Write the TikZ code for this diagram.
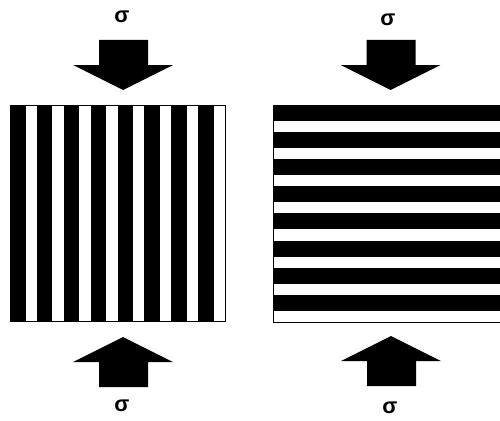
\documentclass[tikz,border=0pt]{standalone}
\usepackage{fontspec}
\setmainfont{Liberation Sans}
\usepackage{tikz}
\usetikzlibrary{positioning}

\begin{document}
\begin{tikzpicture}[x=1pt, y=-1pt,
    stress/.style={font=\fontsize{22}{24}\selectfont\bfseries, inner sep=0pt},
    load/.style={fill=black}]
  \useasboundingbox (0,0) rectangle (500,420);
  % vertical layers (left block)
  \foreach \i in {0,...,7}{
    \fill (10+\i*26.875,105) rectangle (25.5+\i*26.875,321);
  }
  \draw[line width=0.8pt] (10,105) rectangle (225,321);
  % horizontal layers (right block)
  \foreach \i in {0,...,7}{
    \fill (273,105+\i*27.1) rectangle (505,121+\i*27.1);
  }
  \draw[line width=0.8pt] (505,105) -- (273,105) -- (273,322) -- (505,322);
  % compressive loads
  \foreach \cx/\cy/\s in {123/65/1, 390.5/65/1, 123/362/-1, 391/361/-1}{
    \fill[load, shift={(\cx,\cy)}, yscale=\s]
      (-24,-25) -- (25,-25) -- (25,0) -- (50,0) -- (0,25) -- (-50,0) -- (-24,0) -- cycle;
  }
  \node[stress] (sigtl) at (122,17) {σ};
  \node[stress] (sigtr) at (388,20) {σ};
  \node[stress] (sigbl) at (122,406) {σ};
  \node[stress] (sigbr) at (390,408) {σ};
\end{tikzpicture}
\end{document}
